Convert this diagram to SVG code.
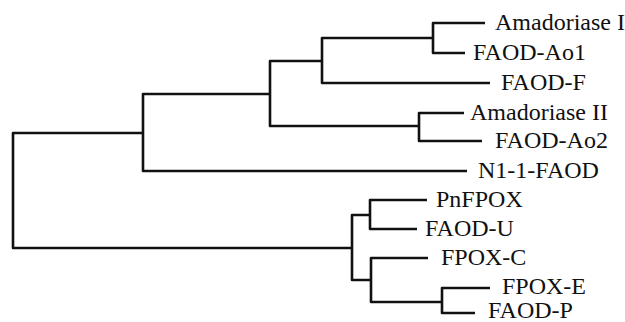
<svg xmlns="http://www.w3.org/2000/svg" width="625" height="322" viewBox="0 0 625 322">
<style>
.e{fill:none;stroke:#111;stroke-width:2.6;stroke-linejoin:round;stroke-linecap:butt}
.t{font-family:"Liberation Serif","Times New Roman",serif;font-size:24px;fill:#111}
</style>
<rect width="625" height="322" fill="#fff"/>
<g id="connectors">
<path class="e" d="M143 133 H13 V248 H352"/>
<path class="e" d="M270 94 H143 V171 H467"/>
<path class="e" d="M322 61 H270 V126 H419"/>
<path class="e" d="M433 38 H322 V83 H490"/>
<path class="e" d="M485 23 H433 V53 H465"/>
<path class="e" d="M464 113 H419 V141 H482"/>
<path class="e" d="M370 215 H352 V280 H371"/>
<path class="e" d="M427 200 H370 V229 H417"/>
<path class="e" d="M428 258 H371 V302 H442"/>
<path class="e" d="M490 288 H442 V313 H475"/>
</g>
<g id="amadoriase-i"><text class="t" x="495" y="30">Amadoriase I</text></g>
<g id="faod-ao1"><text class="t" x="473" y="60">FAOD-Ao1</text></g>
<g id="faod-f"><text class="t" x="501" y="90">FAOD-F</text></g>
<g id="amadoriase-ii"><text class="t" x="470" y="120">Amadoriase II</text></g>
<g id="faod-ao2"><text class="t" x="495" y="148">FAOD-Ao2</text></g>
<g id="n1-1-faod"><text class="t" x="478" y="178">N1-1-FAOD</text></g>
<g id="pnfpox"><text class="t" x="436" y="207">PnFPOX</text></g>
<g id="faod-u"><text class="t" x="425" y="236">FAOD-U</text></g>
<g id="fpox-c"><text class="t" x="441" y="265">FPOX-C</text></g>
<g id="fpox-e"><text class="t" x="502" y="294">FPOX-E</text></g>
<g id="faod-p"><text class="t" x="488" y="318">FAOD-P</text></g>
</svg>
